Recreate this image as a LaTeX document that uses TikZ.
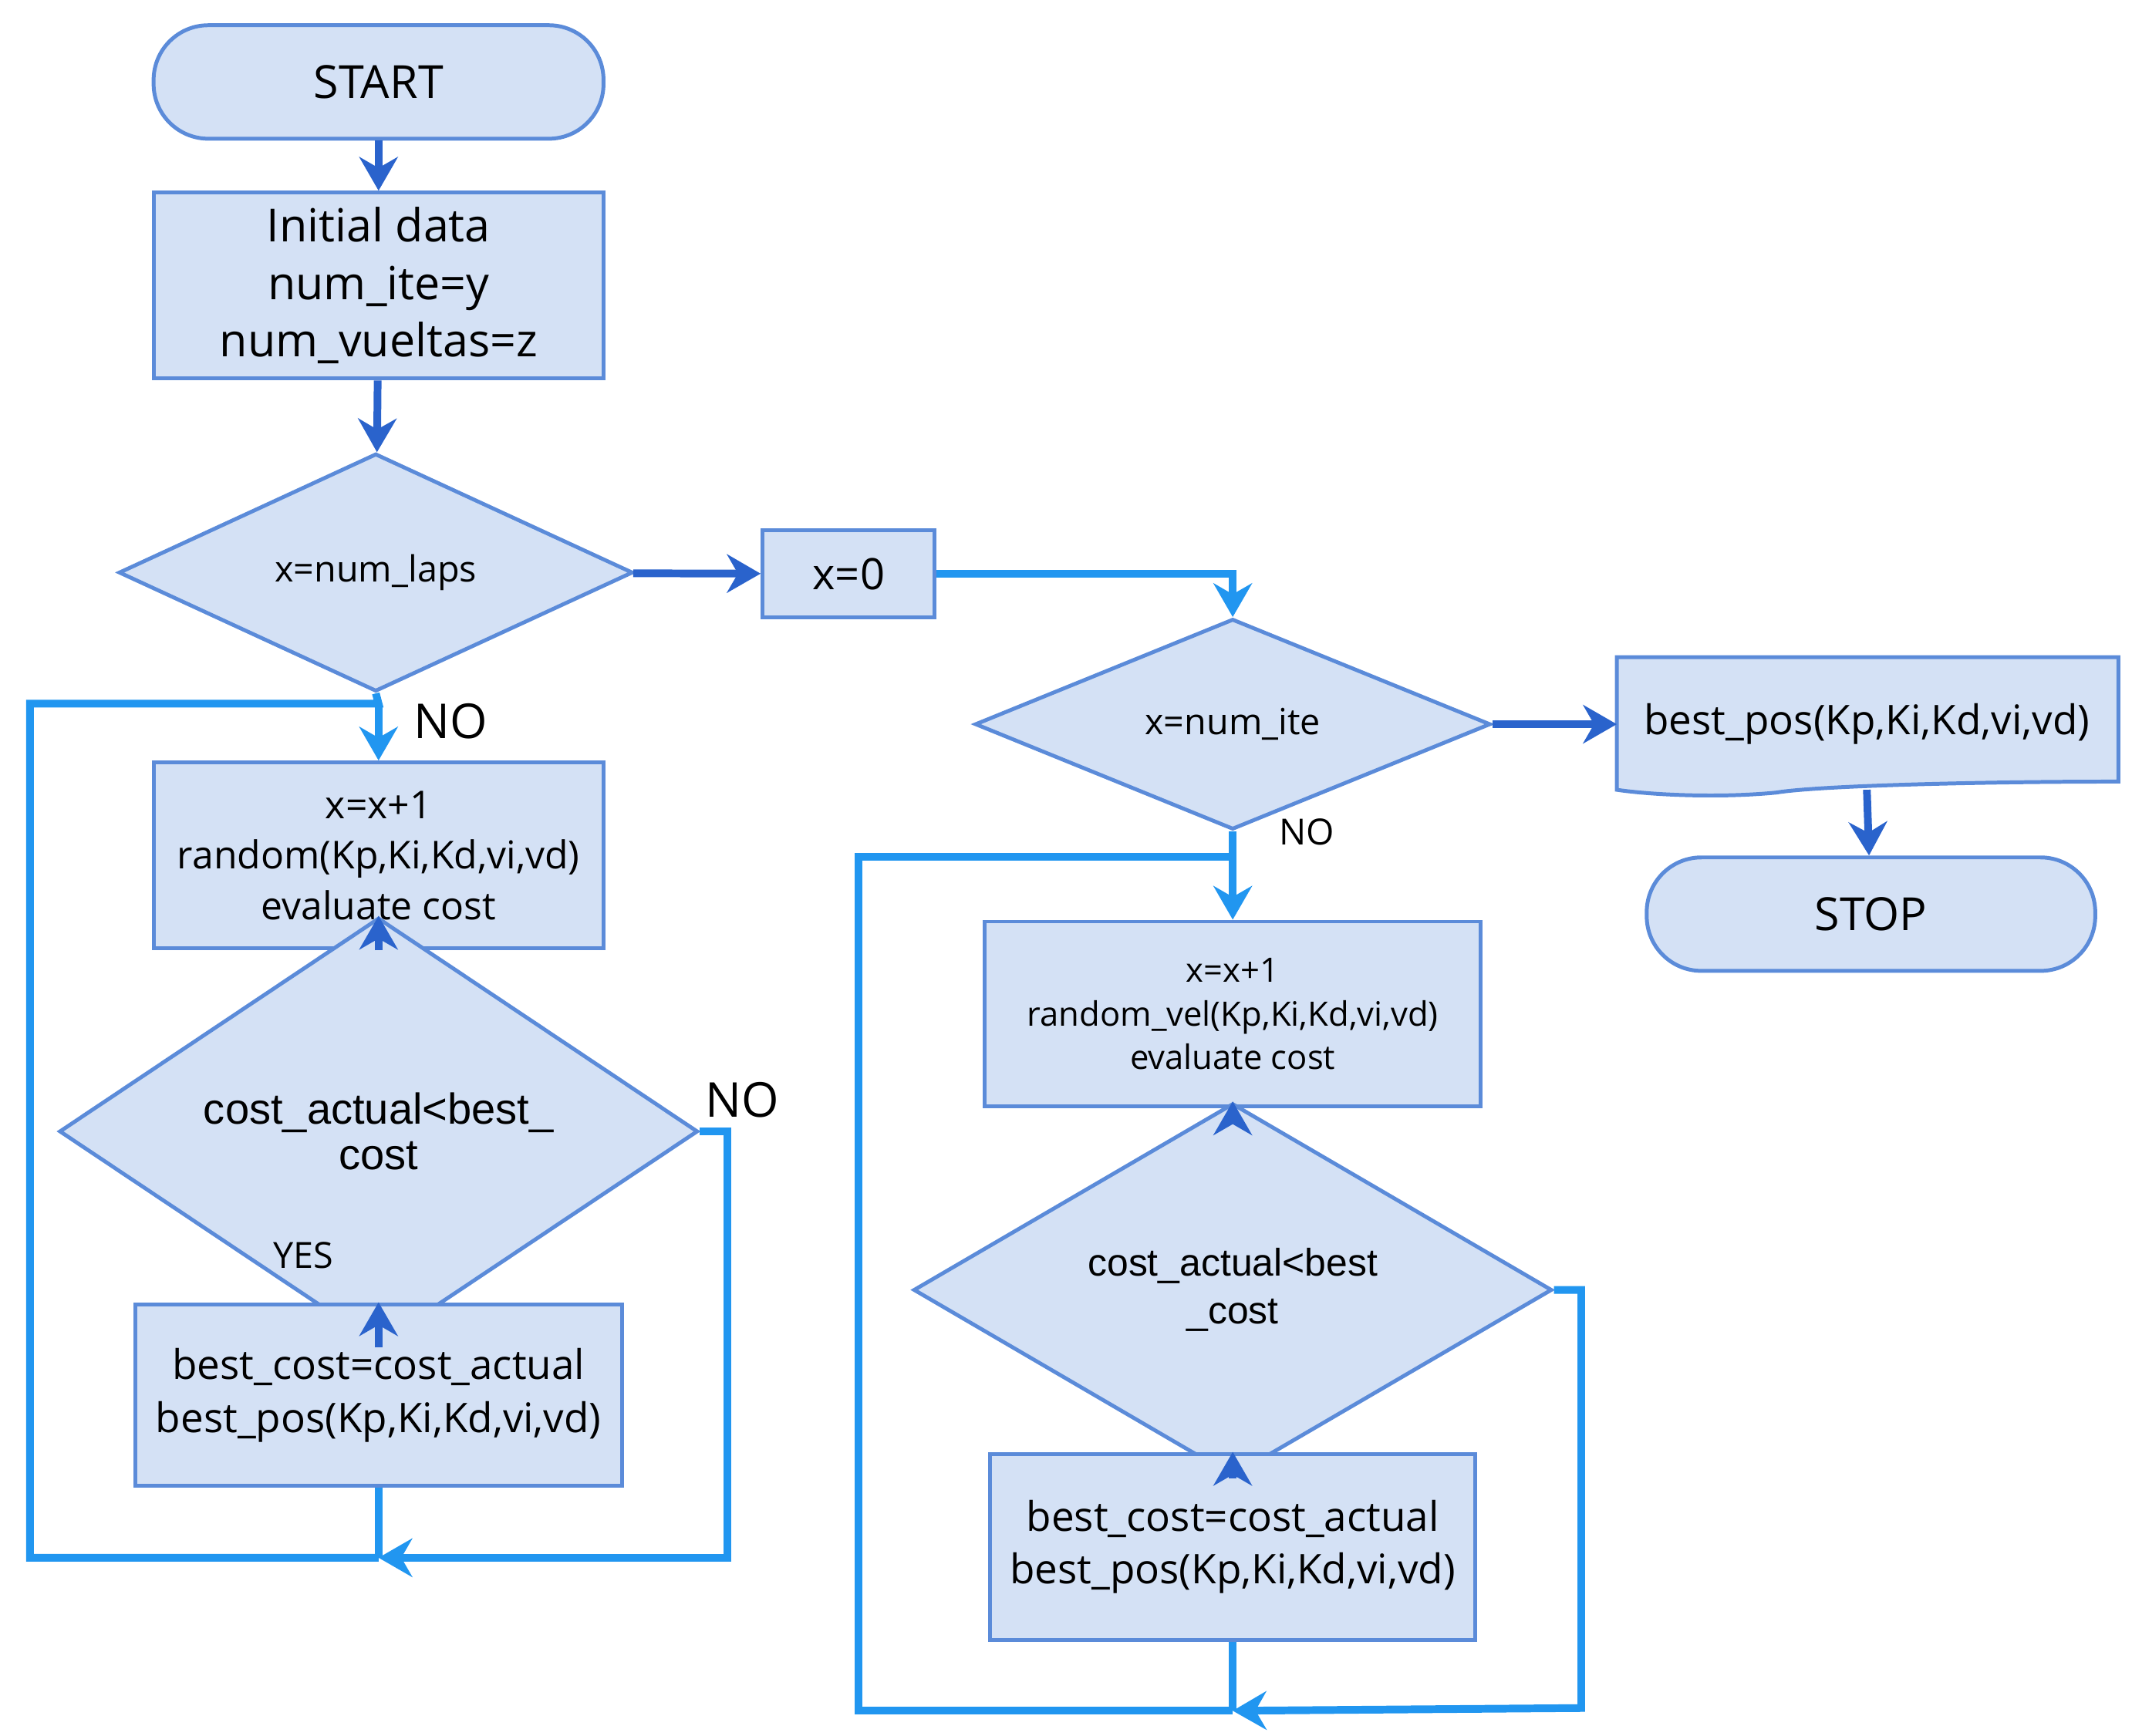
\documentclass[tikz,border=0pt]{standalone}
\usepackage{fontspec}
\setmainfont{Open Sans}
\newfontfamily\arialf{Liberation Sans}
\usetikzlibrary{shapes,arrows.meta,calc,positioning}
\definecolor{boxfill}{HTML}{D4E1F5}
\definecolor{boxline}{HTML}{5B8BD9}
\definecolor{darkarr}{HTML}{2A63CC}
\definecolor{lightarr}{HTML}{2196F0}
\begin{document}
\begin{tikzpicture}[x=0.01cm,y=-0.01cm,
  box/.style={draw=boxline,fill=boxfill,align=center,inner sep=0pt,line width=0.8pt},
  term/.style={box,rounded corners=0.4cm},
  dec/.style={box,diamond,aspect=2.4},
  main/.style={line width=1.6pt,draw=darkarr,-{Stealth[length=7pt,width=8pt]}},
  loop/.style={line width=1.6pt,draw=lightarr},
  lab/.style={font=\fontsize{9}{10}\selectfont}]
\useasboundingbox (0,0) rectangle (1560,1270);

% left column
\node[term,minimum width=3.29cm,minimum height=0.83cm,font=\fontsize{9.5}{11}\selectfont] (start) at (277,60) {START};
\node[box,minimum width=3.29cm,minimum height=1.36cm,font=\fontsize{9.5}{12}\selectfont] (init) at (277,209) {Initial data\\num\_ite=y\\num\_vueltas=z};
\node[box,diamond,minimum width=3.76cm,minimum height=1.53cm,font=\fontsize{7.5}{9}\selectfont] (laps) at (275,419) {x=num\_laps};
\node[box,minimum width=3.29cm,minimum height=1.36cm,font=\fontsize{8}{10.5}\selectfont] (rand) at (277,626) {x=x+1\\random(Kp,Ki,Kd,vi,vd)\\evaluate cost};
\node[box,diamond,minimum width=4.67cm,minimum height=1.43cm,font=\arialf\fontsize{9}{9.5}\selectfont] (cmpl) at (277,828) {cost\_actual<best\_\\cost};
\node[box,minimum width=3.56cm,minimum height=1.33cm,font=\fontsize{8.5}{11}\selectfont] (bestl) at (277,1021) {best\_cost=cost\_actual\\best\_pos(Kp,Ki,Kd,vi,vd)};

% right column
\node[box,minimum width=1.26cm,minimum height=0.64cm,font=\fontsize{9}{10}\selectfont] (xzero) at (621,420) {x=0};
\node[box,diamond,minimum width=3.77cm,minimum height=1.54cm,font=\fontsize{7.5}{9}\selectfont] (ite) at (902,530) {x=num\_ite};
\node[box,minimum width=3.63cm,minimum height=1.35cm,font=\fontsize{7}{9}\selectfont] (randv) at (902,742) {x=x+1\\random\_vel(Kp,Ki,Kd,vi,vd)\\evaluate cost};
\node[box,diamond,minimum width=4.67cm,minimum height=1.44cm,font=\arialf\fontsize{8}{10}\selectfont] (cmpr) at (902,944) {cost\_actual<best\\\_cost};
\node[box,minimum width=3.55cm,minimum height=1.36cm,font=\fontsize{8.5}{11}\selectfont] (bestr) at (902,1132) {best\_cost=cost\_actual\\best\_pos(Kp,Ki,Kd,vi,vd)};

% output document and stop
\draw[draw=boxline,fill=boxfill,line width=0.8pt] (1183,481) -- (1550,481) -- (1550,572)
  .. controls (1450,572) and (1330,575) .. (1300,580) .. controls (1260,584) and (1210,582) .. (1183,578) -- cycle;
\node[font=\fontsize{8.5}{10}\selectfont] (bpos) at (1366,530) {best\_pos(Kp,Ki,Kd,vi,vd)};
\coordinate (bposs) at (1366,578);
\node[term,minimum width=3.28cm,minimum height=0.83cm,font=\fontsize{9.5}{11}\selectfont] (stop) at (1369,669) {STOP};

% main flow
\draw[main] (start) -- (init);
\draw[main] (init) -- (laps);
\draw[main] (laps) -- (xzero);
\draw[main] (rand) -- (cmpl);
\draw[main] (cmpl) -- (bestl);
\draw[main] (ite.east) -- (bpos.west -| 1183,0);
\draw[main] (bposs) -- (stop);
\draw[main] (randv) -- (cmpr);
\draw[main] (cmpr) -- (bestr);

% left loop
\coordinate (lj) at (277,515);
\coordinate (lb) at (277,1140);
\draw[loop] (laps.south) -- (lj) -- (22,515) -- (22,1140) -- (lb);
\draw[loop,-{Stealth[length=7pt,width=8pt]}] (lj) -- (rand);
\draw[loop] (bestl) -- (lb);
\draw[loop,-{Stealth[length=7pt,width=8pt]}] (cmpl.east) -- (532,828) -- (532,1140) -- (lb);
\node[lab,font=\fontsize{10}{11}\selectfont] (nol1) at (330,528) {NO};
\node[lab,font=\fontsize{10}{11}\selectfont] (nol2) at (543,805) {NO};
\node[lab,font=\fontsize{7.5}{9}\selectfont] (yesl) at (222,919) {YES};

% right loop
\coordinate (rj) at (902,627);
\coordinate (rb) at (902,1252);
\draw[loop,-{Stealth[length=7pt,width=8pt]}] (xzero.east) -- (902,420) -- (ite.north);
\draw[loop] (ite.south) -- (rj) -- (628,627) -- (628,1252) -- (rb);
\draw[loop,-{Stealth[length=7pt,width=8pt]}] (rj) -- (randv);
\draw[loop] (bestr) -- (rb);
\draw[loop,-{Stealth[length=7pt,width=8pt]}] (cmpr.east) -- (1157,944) -- (1157,1250) -- (rb);
\node[lab,font=\fontsize{7.5}{9}\selectfont] (nor) at (956,609) {NO};
\end{tikzpicture}
\end{document}
